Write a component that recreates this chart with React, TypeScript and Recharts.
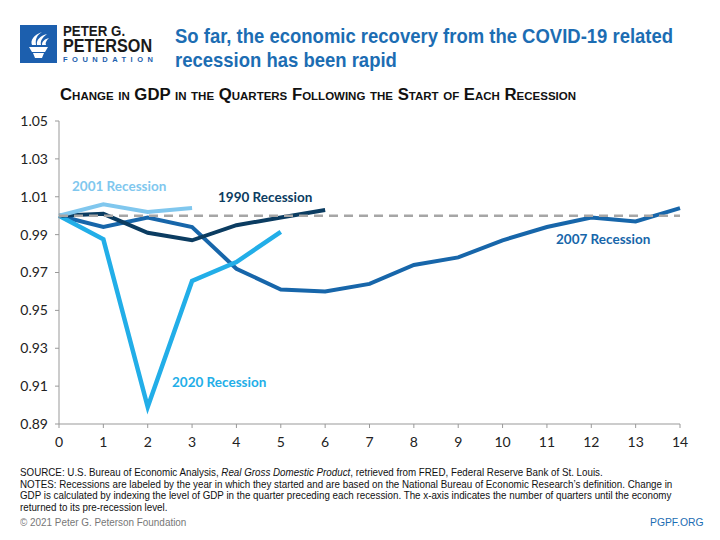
import React from 'react';
import { LineChart, Line, XAxis, YAxis, ReferenceLine } from 'recharts';

// quarters after the start of each recession
const quarters = [0, 1, 2, 3, 4, 5, 6, 7, 8, 9, 10, 11, 12, 13, 14];
const yTicks = [0.89, 0.91, 0.93, 0.95, 0.97, 0.99, 1.01, 1.03, 1.05];

const r1990 = [1.0, 1.001, 0.991, 0.987, 0.995, 0.999, 1.003];
const r2001 = [1.0, 1.006, 1.002, 1.004];
const r2007 = [1.0, 0.994, 0.999, 0.994, 0.972, 0.961, 0.96, 0.964, 0.974, 0.978, 0.987, 0.994, 0.999, 0.997, 1.004];
const r2020 = [1.0, 0.9875, 0.899, 0.9655, 0.9755, 0.9915];

const data = quarters.map((q, i) => ({
  q,
  r1990: r1990[i],
  r2001: r2001[i],
  r2007: r2007[i],
  r2020: r2020[i],
}));

const C1990 = '#0b3c61';
const C2001 = '#80c7ee';
const C2007 = '#1766aa';
const C2020 = '#22aee8';
const BLUE = '#1c6db3';

const sans = "'Liberation Sans', Arial, sans-serif";
const tickFont = { fontFamily: 'Lato, sans-serif', fontSize: 14, fill: '#222' };

// no narrow font installed, so squeeze the regular one
const squeeze = (sx: number): React.CSSProperties => ({
  transform: `scaleX(${sx})`,
  transformOrigin: '0 0',
  whiteSpace: 'nowrap',
});

const Logo = () => (
  <div style={{ position: 'absolute', left: 20, top: 25 }}>
    <svg width={37} height={38} style={{ position: 'absolute', left: 0, top: 0 }}>
      <rect width={37} height={38} fill="#1c5fae" />
      {/* torch */}
      <path d="M9 22 L28 22 L25 27 L12 27 Z" fill="#fff" />
      <path d="M13 28 L24 28 L22 33 L15 33 Z" fill="#fff" />
      <path d="M12 20 C10 15 14 10 22 7 C17 10 15 14 16 20 Z" fill="#fff" />
      <path d="M17 20 C16 15 20 11 27 9 C22 13 20 16 21 20 Z" fill="#fff" />
      <path d="M22 20 C22 16 25 14 29 13 C26 16 25 18 26 20 Z" fill="#fff" />
    </svg>
    <div style={{ position: 'absolute', left: 43, top: 0, fontFamily: sans, color: '#1a1a1a', whiteSpace: 'nowrap' }}>
      <div style={{ fontSize: 14, fontWeight: 700, lineHeight: '13px', height: 13, ...squeeze(0.95) }}>PETER G.</div>
      <div style={{ fontSize: 18, fontWeight: 700, lineHeight: '17px', height: 17, ...squeeze(0.9) }}>PETERSON</div>
      <div style={{ fontSize: 7.5, fontWeight: 700, lineHeight: '10px', marginTop: 0, letterSpacing: 4.5, color: '#1c5fae' }}>FOUNDATION</div>
    </div>
  </div>
);

const lineLabel = (text: string, color: string, left: number, cy: number) => (
  <div
    style={{
      position: 'absolute',
      left,
      top: cy - 8,
      height: 16,
      lineHeight: '16px',
      fontFamily: 'Lato, sans-serif',
      fontWeight: 700,
      fontSize: 13.5,
      color,
      whiteSpace: 'nowrap',
    }}
  >
    {text}
  </div>
);

const footLine: React.CSSProperties = { height: 11.7, ...squeeze(0.89) };

export default function App() {
  return (
    <div style={{ position: 'absolute', left: 0, top: 0, width: 720, height: 540, background: '#fff', overflow: 'hidden' }}>
      <Logo />

      <div
        style={{
          position: 'absolute',
          left: 175,
          top: 24,
          fontFamily: sans,
          fontWeight: 700,
          fontSize: 21,
          lineHeight: '24px',
          color: BLUE,
          ...squeeze(0.88),
        }}
      >
        So far, the economic recovery from the COVID-19 related
        <br />
        recession has been rapid
      </div>

      <div
        style={{
          position: 'absolute',
          left: 60,
          top: 85,
          fontFamily: sans,
          fontWeight: 700,
          fontSize: 16,
          lineHeight: '20px',
          fontVariant: 'small-caps',
          color: '#111',
          ...squeeze(1.045),
        }}
      >
        Change in GDP in the Quarters Following the Start of Each Recession
      </div>

      <div style={{ position: 'absolute', left: 0, top: 0 }}>
        <LineChart width={720} height={540} data={data} margin={{ top: 121, right: 40, bottom: 86, left: 9 }}>
          <XAxis
            dataKey="q"
            type="number"
            domain={[0, 14]}
            ticks={quarters}
            interval={0}
            height={30}
            tick={tickFont}
            tickSize={4}
            tickMargin={9}
            stroke="#999"
            tickLine={{ stroke: '#999' }}
          />
          <YAxis
            type="number"
            domain={[0.89, 1.05]}
            ticks={yTicks}
            interval={0}
            width={50}
            tick={tickFont}
            tickSize={4}
            tickMargin={7}
            tickFormatter={(v: number) => v.toFixed(2)}
            stroke="#999"
            tickLine={{ stroke: '#999' }}
          />
          <Line dataKey="r2007" type="linear" stroke={C2007} strokeWidth={4} dot={false} activeDot={false} isAnimationActive={false} />
          <Line dataKey="r2020" type="linear" stroke={C2020} strokeWidth={4.5} dot={false} activeDot={false} isAnimationActive={false} />
          <Line dataKey="r1990" type="linear" stroke={C1990} strokeWidth={4} dot={false} activeDot={false} isAnimationActive={false} />
          <Line dataKey="r2001" type="linear" stroke={C2001} strokeWidth={4} dot={false} activeDot={false} isAnimationActive={false} />
          <ReferenceLine y={1} stroke="#a6a6a6" strokeWidth={2.5} strokeDasharray="9 6" />
        </LineChart>
      </div>

      {lineLabel('2001 Recession', C2001, 72, 186)}
      {lineLabel('1990 Recession', C1990, 218, 197)}
      {lineLabel('2020 Recession', C2020, 172, 382)}
      {lineLabel('2007 Recession', C2007, 556, 239)}

      <div
        style={{
          position: 'absolute',
          left: 20,
          top: 467,
          fontFamily: sans,
          fontSize: 11,
          lineHeight: '11.7px',
          color: '#111',
        }}
      >
        <div style={footLine}>
          SOURCE: U.S. Bureau of Economic Analysis, <i>Real Gross Domestic Product</i>, retrieved from FRED, Federal Reserve Bank of St. Louis.
        </div>
        <div style={footLine}>
          NOTES: Recessions are labeled by the year in which they started and are based on the National Bureau of Economic Research’s definition. Change in
        </div>
        <div style={footLine}>
          GDP is calculated by indexing the level of GDP in the quarter preceding each recession. The x-axis indicates the number of quarters until the economy
        </div>
        <div style={footLine}>returned to its pre-recession level.</div>
      </div>
      <div style={{ position: 'absolute', left: 20, top: 516, fontFamily: sans, fontSize: 11, lineHeight: '13px', color: '#777', ...squeeze(0.9) }}>
        © 2021 Peter G. Peterson Foundation
      </div>
      <div style={{ position: 'absolute', left: 650, top: 516, fontFamily: sans, fontSize: 11.5, lineHeight: '13px', color: BLUE, ...squeeze(0.9) }}>
        PGPF.ORG
      </div>
    </div>
  );
}
